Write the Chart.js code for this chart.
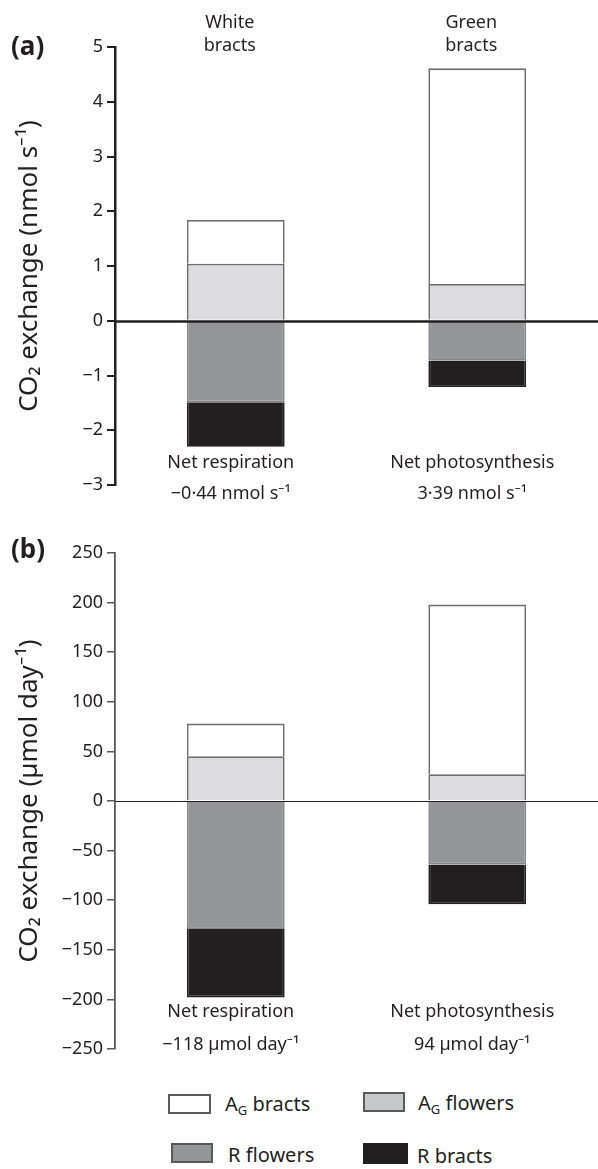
<!DOCTYPE html>
<html>
  <head>
    <title>CO2 exchange of bracts and flowers</title>
    <script src="https://cdn.jsdelivr.net/npm/chart.js"></script>
    <style>
      body { margin: 0; background: #fff; font-family: "Noto Sans", "Open Sans", sans-serif; color: #231f20; }
      canvas { position: absolute; left: 0; }
      .box { position: absolute; box-sizing: border-box; border: 2px solid #58595b; }
      .lab { position: absolute; font-size: 20px; line-height: 24px; white-space: nowrap; }
      .lab sub { font-size: 13px; vertical-align: -4px; }
    </style>
  </head>
  <body>
    <canvas id="chartA" width="598" height="515" style="top:0"></canvas>
    <canvas id="chartB" width="598" height="575" style="top:505px"></canvas>

    <div class="box" style="left:168px;top:1094px;width:43px;height:20px;background:#fff"></div>
    <div class="lab" style="left:225px;top:1092px">A<sub>G</sub> bracts</div>
    <div class="box" style="left:363px;top:1092px;width:42px;height:20px;background:#c7c8ca"></div>
    <div class="lab" style="left:418px;top:1091px">A<sub>G</sub> flowers</div>
    <div class="box" style="left:171px;top:1143px;width:42px;height:20px;background:#939598"></div>
    <div class="lab" style="left:228px;top:1143px">R flowers</div>
    <div class="box" style="left:363px;top:1143px;width:45px;height:21px;background:#231f20;border-color:#231f20"></div>
    <div class="lab" style="left:417px;top:1144px">R bracts</div>

    <script>
      // categories and values
      const categories = ["White bracts", "Green bracts"];
      const topLabels = [["White", "bracts"], ["Green", "bracts"]];

      // (a) instantaneous rates, nmol s-1
      const agBractsA = [0.8, 3.94];
      const agFlowersA = [1.04, 0.67];
      const rFlowersA = [-1.49, -0.73];
      const rBractsA = [-0.81, -0.48];
      const yTicksA = [-3, -2, -1, 0, 1, 2, 3, 4, 5];
      const netLabelsA = [
        ["Net respiration", "\u22120\u00b744 nmol s\u207b\u00b9"],
        ["Net photosynthesis", "3\u00b739 nmol s\u207b\u00b9"],
      ];

      // (b) daily totals, umol day-1
      const agBractsB = [33, 171];
      const agFlowersB = [45, 27];
      const rFlowersB = [-129, -64];
      const rBractsB = [-69, -40];
      const yTicksB = [-250, -200, -150, -100, -50, 0, 50, 100, 150, 200, 250];
      const netLabelsB = [
        ["Net respiration", "\u2212118 \u00b5mol day\u207b\u00b9"],
        ["Net photosynthesis", "94 \u00b5mol day\u207b\u00b9"],
      ];

      const FONT = "'Noto Sans', 'Open Sans', sans-serif";
      const INK = "#231f20";

      // extra text: panel letter, bract labels, net exchange labels, zero line
      const annotPlugin = {
        id: "annot",
        afterDatasetsDraw(chart, args, opts) {
          const ctx = chart.ctx;
          const x = chart.scales.x;
          const y = chart.scales.y;
          const area = chart.chartArea;
          ctx.save();
          ctx.strokeStyle = INK;
          ctx.lineWidth = opts.zeroWidth;
          const y0 = Math.round(y.getPixelForValue(0)) + 0.5;
          ctx.beginPath();
          ctx.moveTo(area.left, y0);
          ctx.lineTo(area.right, y0);
          ctx.stroke();

          ctx.fillStyle = INK;
          ctx.textBaseline = "middle";
          ctx.textAlign = "left";
          ctx.font = "bold 26px " + FONT;
          ctx.fillText(opts.panel, 11, opts.panelY);

          ctx.textAlign = "center";
          ctx.font = "18px " + FONT;
          if (opts.top) {
            opts.top.forEach((lines, i) => {
              const cx = x.getPixelForValue(i);
              lines.forEach((t, k) => ctx.fillText(t, cx - 6, opts.topY[k]));
            });
          }
          opts.bottom.forEach((lines, i) => {
            const cx = x.getPixelForValue(i);
            lines.forEach((t, k) => ctx.fillText(t, cx - 5, opts.bottomY[k]));
          });
          ctx.restore();
        },
      };

      function makeChart(id, series, yTicks, title, annot, lw) {
        const ctx = document.getElementById(id).getContext("2d");
        return new Chart(ctx, {
          type: "bar",
          data: {
            labels: categories,
            datasets: [
              { label: "AG flowers", data: series[0], backgroundColor: "#dcdcde", borderColor: "#6d6e71" },
              { label: "AG bracts", data: series[1], backgroundColor: "#ffffff", borderColor: "#6d6e71" },
              { label: "R flowers", data: series[2], backgroundColor: "#939598", borderColor: "#858689" },
              { label: "R bracts", data: series[3], backgroundColor: "#231f20", borderColor: "#231f20" },
            ],
          },
          options: {
            responsive: false,
            animation: false,
            devicePixelRatio: 1,
            layout: { padding: annot.padding },
            datasets: {
              bar: { borderWidth: 1.8, categoryPercentage: 1, barPercentage: 0.405 },
            },
            scales: {
              x: { display: false, stacked: true },
              y: {
                stacked: true,
                min: yTicks[0],
                max: yTicks[yTicks.length - 1],
                afterBuildTicks: (s) => { s.ticks = yTicks.map((v) => ({ value: v })); },
                afterFit: (s) => { s.width = 115; },
                grid: { drawOnChartArea: false, drawTicks: true, tickLength: 8, color: lw.color, lineWidth: lw.tick },
                border: { display: true, color: lw.color, width: lw.axis },
                ticks: {
                  padding: 4,
                  color: INK,
                  font: { family: FONT, size: 18 },
                  callback: (v) => String(v).replace("-", "\u2212"),
                },
                title: {
                  display: true,
                  text: title,
                  color: INK,
                  font: { family: FONT, size: 26 },
                  padding: { top: 14, bottom: 0 },
                },
              },
            },
            plugins: {
              legend: { display: false },
              tooltip: { enabled: false },
              annot: annot,
            },
          },
          plugins: [annotPlugin],
        });
      }

      makeChart(
        "chartA",
        [agFlowersA, agBractsA, rFlowersA, rBractsA],
        yTicksA,
        "CO\u2082 exchange (nmol s\u207b\u00b9)",
        {
          padding: { top: 47, bottom: 30, left: 0, right: 0 },
          panel: "(a)", panelY: 48,
          top: topLabels, topY: [23, 46],
          bottom: netLabelsA, bottomY: [463, 494],
          zeroWidth: 2.5,
        },
        { color: INK, tick: 2, axis: 2.5 }
      );

      makeChart(
        "chartB",
        [agFlowersB, agBractsB, rFlowersB, rBractsB],
        yTicksB,
        "CO\u2082 exchange (\u00b5mol day\u207b\u00b9)",
        {
          padding: { top: 48, bottom: 31, left: 0, right: 0 },
          panel: "(b)", panelY: 46,
          top: null,
          bottom: netLabelsB, bottomY: [507, 540],
          zeroWidth: 1.2,
        },
        { color: "#58595b", tick: 1.5, axis: 1.8 }
      );
    </script>
  </body>
</html>
